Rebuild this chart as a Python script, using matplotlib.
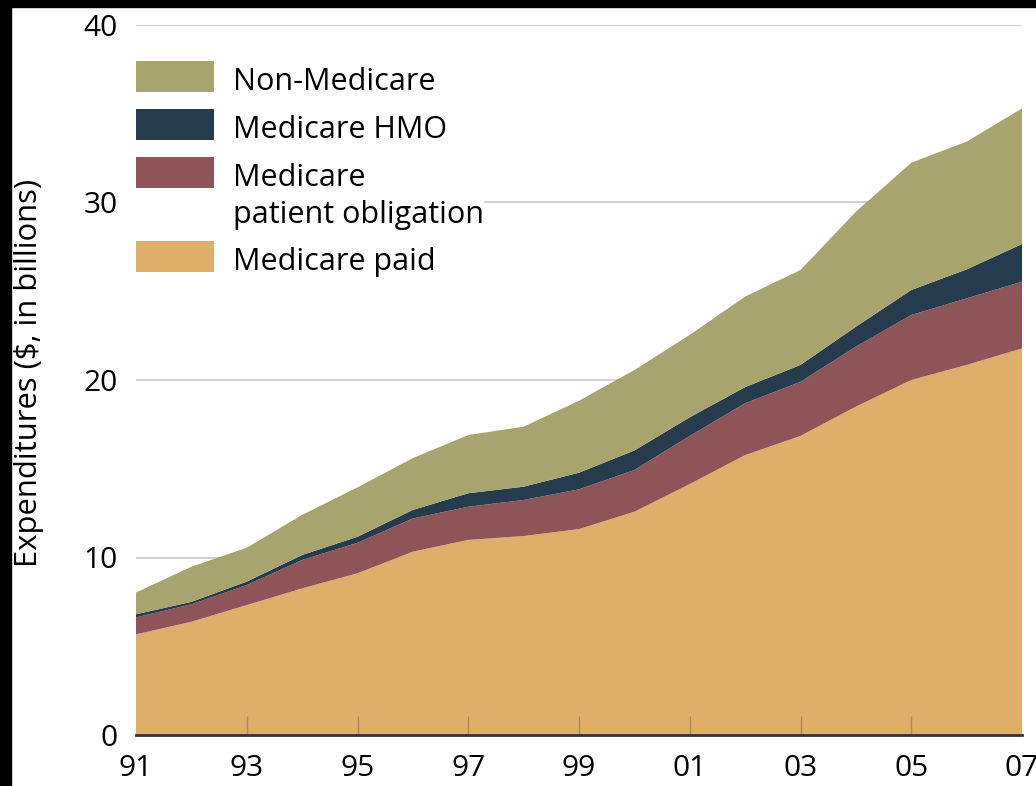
import matplotlib
matplotlib.use("Agg")
import matplotlib.pyplot as plt
from matplotlib.patches import Rectangle

plt.rcParams['font.family'] = ['Open Sans', 'DejaVu Sans']

# years 1991..2007 and stacked spending ($ billions)
years = [1991, 1992, 1993, 1994, 1995, 1996, 1997, 1998, 1999,
         2000, 2001, 2002, 2003, 2004, 2005, 2006, 2007]
medicare_paid = [5.67, 6.38, 7.32, 8.26, 9.11, 10.33, 10.99, 11.21, 11.60,
                 12.58, 14.14, 15.77, 16.85, 18.50, 20.00, 20.85, 21.78]
patient_obligation = [0.96, 0.98, 1.13, 1.60, 1.72, 1.87, 1.87, 2.03, 2.24,
                      2.35, 2.71, 2.92, 3.05, 3.38, 3.66, 3.75, 3.76]
medicare_hmo = [0.17, 0.14, 0.19, 0.28, 0.34, 0.48, 0.76, 0.75, 0.94,
                1.10, 1.05, 0.91, 0.95, 1.12, 1.41, 1.63, 2.12]
non_medicare = [1.23, 1.98, 1.91, 2.26, 2.78, 2.92, 3.28, 3.38, 4.05,
                4.53, 4.64, 5.10, 5.35, 6.48, 7.17, 7.20, 7.64]

labels = ['Medicare paid', 'Medicare\npatient obligation', 'Medicare HMO', 'Non-Medicare']
colors = ['#dfae69', '#8f5458', '#273b4e', '#a8a46e']
tick_years = years[::2]
tick_labels = ['%02d' % (y % 100) for y in tick_years]

fig = plt.figure(figsize=(10.36, 7.86), dpi=100)
ax = fig.add_axes([136 / 1036, 1 - 735 / 786, 886 / 1036, 710 / 786])

polys = ax.stackplot(years, medicare_paid, patient_obligation, medicare_hmo, non_medicare,
                     colors=colors, labels=labels, linewidth=0, zorder=2)

ax.set_xlim(years[0], years[-1])
ax.set_ylim(0, 40)
ax.set_yticks([0, 10, 20, 30, 40])
ax.set_xticks(tick_years)
ax.set_xticklabels(tick_labels)
ax.grid(axis='y', color='#c8c8c8', linewidth=1.2)
ax.set_axisbelow(True)
ax.xaxis.set_zorder(3)

for s in ['left', 'right', 'top']:
    ax.spines[s].set_visible(False)
ax.spines['bottom'].set_color('#333333')
ax.spines['bottom'].set_linewidth(2)
ax.spines['bottom'].set_zorder(5)

ax.tick_params(axis='y', length=0, pad=13, labelsize=21.5)
ax.tick_params(axis='x', direction='in', length=14, width=1, color='#b08a58',
               pad=14, labelsize=21.5)
xt = ax.xaxis.get_major_ticks()
xt[0].tick1line.set_visible(False)
xt[-1].tick1line.set_visible(False)

ax.set_ylabel('Expenditures ($, in billions)', fontsize=22.3)
ax.yaxis.set_label_coords(-0.104, 0.51)

handles = polys[::-1]
leg = ax.legend(handles, labels[::-1], loc='upper left', bbox_to_anchor=(0, 0.949),
                fontsize=22, frameon=True, facecolor='white', edgecolor='none',
                framealpha=1, borderpad=0, borderaxespad=0, handlelength=2.55,
                handleheight=1.18, handletextpad=0.62, labelspacing=0.56, fancybox=False)
leg.set_zorder(6)
# put each swatch level with the first line of its label
for col in leg._legend_handle_box.get_children():
    for row in col.get_children():
        row.align = 'top'
for t in leg.get_texts():
    t.set_linespacing(1.3)
    t.set_y(-6)

# black strips at the top and left edges of the original image
fig.patches.append(Rectangle((0, 0), 11 / 1036, 1, transform=fig.transFigure,
                             color='black', zorder=10))
fig.patches.append(Rectangle((0, 1 - 7 / 786), 1, 7 / 786, transform=fig.transFigure,
                             color='black', zorder=10))

fig.savefig('out.png', dpi=100)
